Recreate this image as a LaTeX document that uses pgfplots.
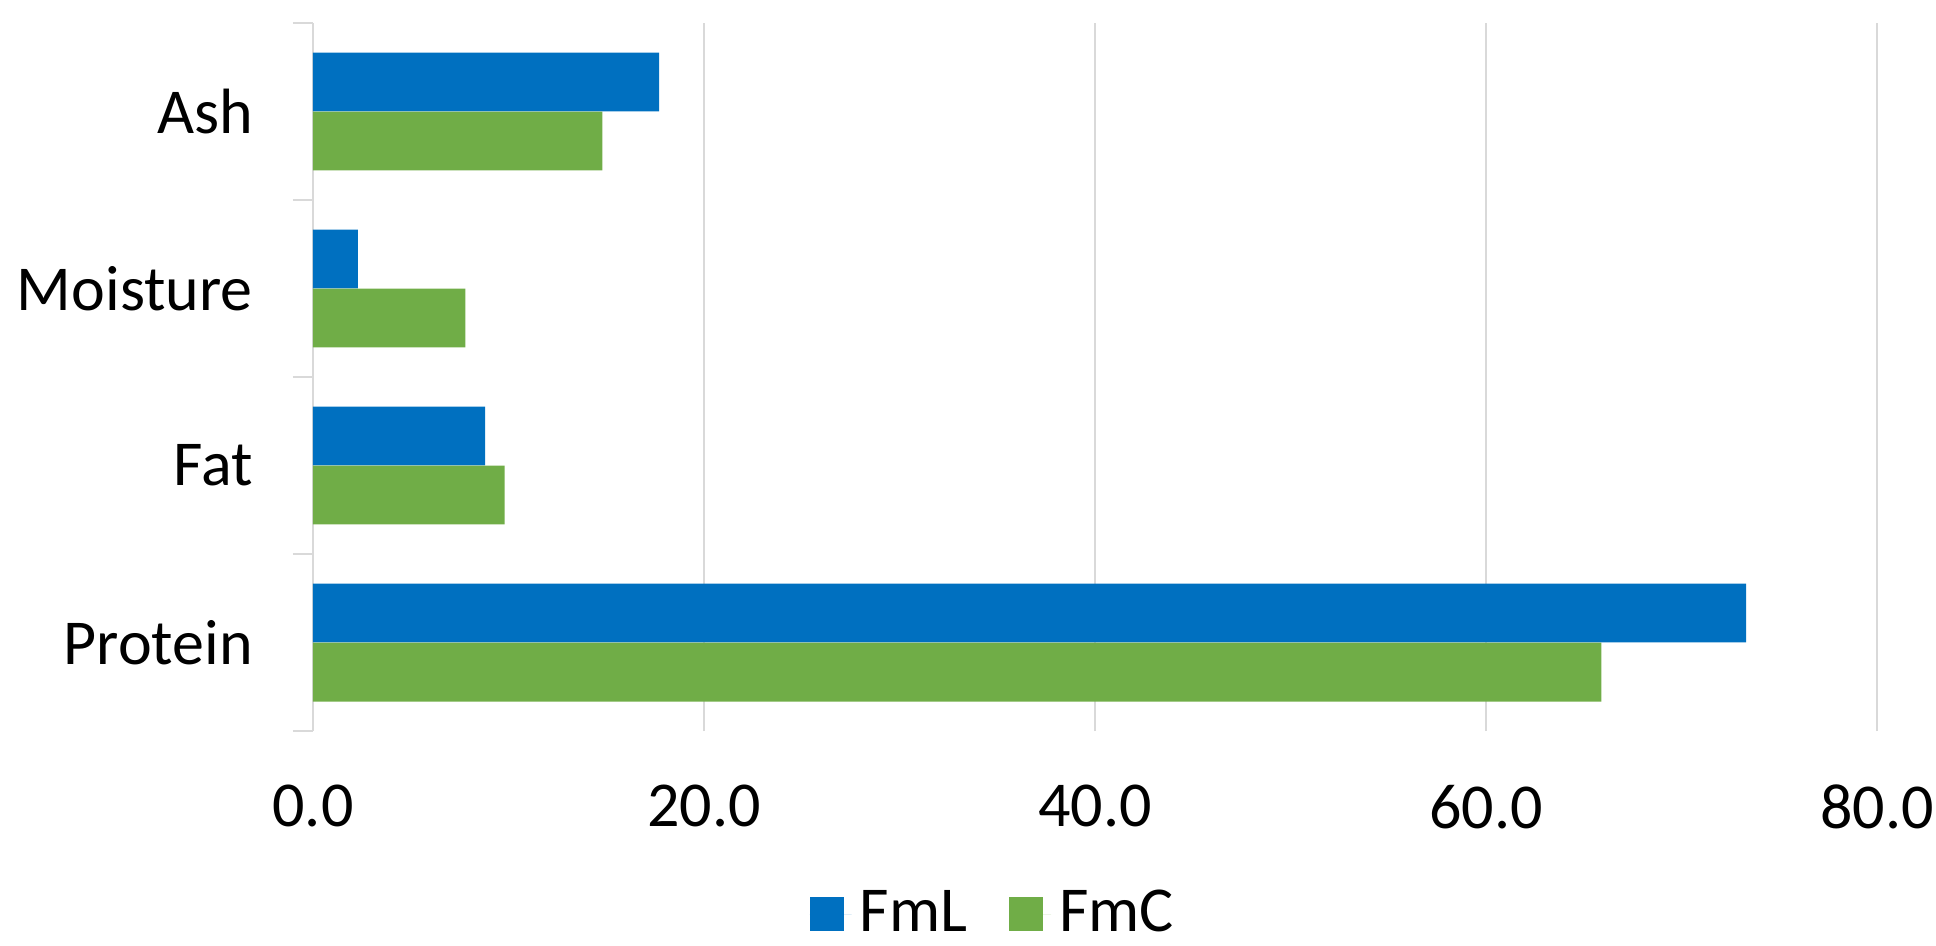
\documentclass[border=0pt]{standalone}
\usepackage{fontspec}
\setmainfont{Carlito}
\usepackage{pgfplots}
\pgfplotsset{compat=1.18}
\definecolor{fmlblue}{HTML}{0070C0}
\definecolor{fmcgreen}{HTML}{70AD47}
\definecolor{gridgray}{HTML}{D9D9D9}
\begin{document}
\begin{tikzpicture}
\begin{axis}[
  scale only axis,
  width=391pt, height=177pt,
  xbar,
  bar width=0.333,
  xmin=0, xmax=80,
  ymin=-0.5, ymax=3.5,
  xtick={0,20,40,60,80},
  ytick={0,1,2,3},
  yticklabels={Protein,Fat,Moisture,Ash},
  minor ytick={-0.5,0.5,1.5,2.5,3.5},
  major tick length=0pt,
  minor tick length=5pt,
  tick align=outside,
  tick style={draw=gridgray, line width=0.6pt},
  xmajorgrids,
  major grid style={draw=gridgray, line width=0.6pt},
  axis lines*=left,
  x axis line style={draw=none},
  y axis line style={draw=gridgray, line width=0.6pt, -},
  /pgf/number format/assume math mode=true,
  /pgf/number format/.cd, fixed, fixed zerofill, precision=1,
  /pgfplots/.cd,
  tick label style={font=\fontsize{16}{19}\selectfont, text=black},
  xticklabel style={yshift=-10pt},
  yticklabel style={xshift=-11.5pt},
  legend style={at={(rel axis cs:0.4365,-0.2585)}, anchor=center, draw=none, fill=none,
    font=\fontsize{16}{19}\selectfont, legend columns=2,
    /tikz/every even column/.append style={column sep=8.5pt}},
  legend cell align=left,
  legend image code/.code={\fill[#1] (0pt,-4.25pt) rectangle (8.5pt,4.25pt);
    \path (0pt,0pt) -- (10.5pt,0pt);},
  clip=false,
]
\addplot[fill=fmlblue, draw=none, bar shift=0.1667] coordinates {(73.3,0) (8.8,1) (2.3,2) (17.7,3)};
\addplot[fill=fmcgreen, draw=none, bar shift=-0.1667] coordinates {(65.9,0) (9.8,1) (7.8,2) (14.8,3)};
\legend{FmL,FmC}
\coordinate (bbsw) at (rel axis cs:-0.2001,-0.3023);
\coordinate (bbne) at (rel axis cs:1.0377,1.0325);
\end{axis}
\pgfresetboundingbox
\path (bbsw) rectangle (bbne);
\end{tikzpicture}
\end{document}
